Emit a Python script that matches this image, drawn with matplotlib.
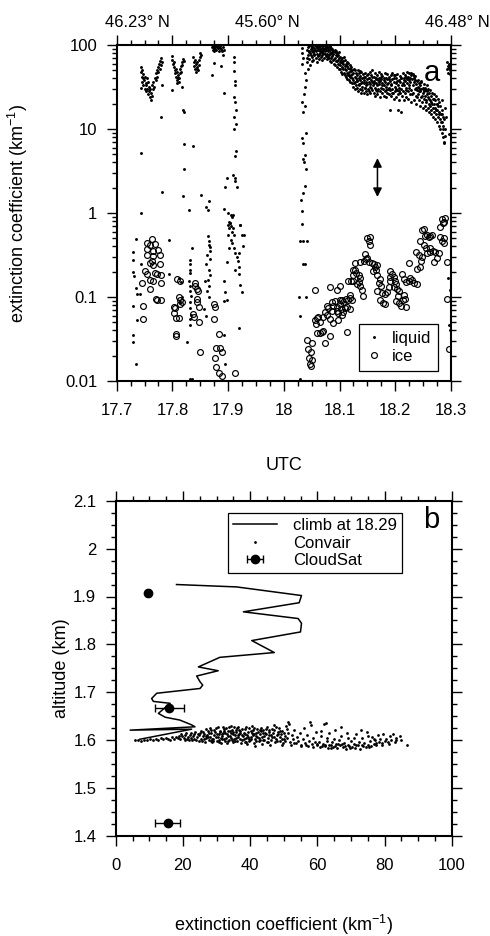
import matplotlib
matplotlib.use("Agg")
import matplotlib.pyplot as plt
from matplotlib.ticker import FixedLocator, NullFormatter, LogLocator
import numpy as np

plt.rcParams['font.family'] = ['Liberation Sans', 'DejaVu Sans']
plt.rcParams['mathtext.fontset'] = 'custom'
plt.rcParams['mathtext.rm'] = 'Liberation Sans'
plt.rcParams['mathtext.it'] = 'Liberation Sans'

# ---------------- Panel a data: (UTC hour, extinction km^-1) ----------------
liquid_left = [
    (17.743, 55), (17.744, 48), (17.745, 42), (17.745, 36), (17.746, 50), (17.747, 40), (17.748, 33),
    (17.748, 45), (17.749, 38), (17.750, 30), (17.751, 42), (17.752, 35), (17.752, 28), (17.753, 33),
    (17.754, 40), (17.755, 30), (17.756, 26), (17.757, 36), (17.758, 28), (17.758, 32), (17.759, 24),
    (17.760, 30), (17.761, 22), (17.762, 27), (17.763, 33), (17.764, 25), (17.765, 30), (17.766, 36),
    (17.767, 32), (17.768, 40), (17.770, 38), (17.771, 46), (17.772, 42), (17.773, 50), (17.774, 55),
    (17.775, 48), (17.776, 60), (17.777, 52), (17.778, 65), (17.779, 58), (17.780, 70), (17.781, 62),
    (17.744, 31), (17.781, 33), (17.780, 13.9), (17.744, 5.2), (17.781, 1.78), (17.744, 1.0),
    (17.799, 74), (17.800, 66), (17.801, 60), (17.802, 55), (17.803, 62), (17.804, 50), (17.805, 46),
    (17.806, 52), (17.807, 42), (17.808, 48), (17.809, 38), (17.810, 44), (17.811, 36), (17.812, 40),
    (17.813, 46), (17.814, 52), (17.815, 48), (17.816, 56), (17.817, 62), (17.818, 58), (17.819, 68),
    (17.820, 64), (17.810, 40), (17.808, 35),
    (17.799, 29), (17.818, 32), (17.819, 17), (17.820, 16), (17.820, 6.6), (17.821, 3.3), (17.819, 1.6),
    (17.837, 6.2), (17.830, 1.1), (17.851, 1.63), (17.860, 1.18), (17.864, 1.1), (17.866, 1.39),
    (17.837, 72), (17.838, 62), (17.839, 56), (17.840, 66), (17.841, 52), (17.842, 60), (17.843, 48),
    (17.844, 55), (17.845, 62), (17.846, 50), (17.847, 58), (17.848, 66), (17.849, 72), (17.850, 80),
    (17.851, 76), (17.844, 52),
    (17.871, 95), (17.872, 88), (17.873, 98), (17.874, 92), (17.875, 85), (17.876, 97), (17.877, 90),
    (17.878, 99), (17.879, 87), (17.880, 94), (17.881, 100), (17.882, 91), (17.883, 96), (17.884, 86),
    (17.885, 93), (17.886, 98), (17.888, 90), (17.889, 84), (17.890, 95), (17.892, 88),
    (17.874, 61), (17.871, 44), (17.888, 57), (17.892, 27), (17.890, 75),
    (17.911, 71), (17.910, 62), (17.911, 49), (17.912, 37), (17.912, 33), (17.910, 24), (17.913, 21),
    (17.914, 17), (17.911, 14), (17.915, 11.4), (17.910, 9.9), (17.914, 5.5), (17.912, 4.8),
    (17.909, 2.8), (17.912, 2.6), (17.913, 2.4), (17.916, 2.06), (17.895, 2.06), (17.898, 2.6),
    (17.893, 1.12), (17.906, 0.95), (17.907, 0.9), (17.908, 0.95), (17.900, 0.72), (17.903, 0.76),
    (17.905, 0.7), (17.921, 0.72), (17.899, 1.0), (17.901, 0.78), (17.909, 0.66),
]

liquid_low = [
    (17.730, 0.347), (17.730, 0.275), (17.730, 0.2), (17.731, 0.18), (17.735, 0.49), (17.735, 0.127),
    (17.736, 0.11), (17.730, 0.078), (17.736, 0.053), (17.730, 0.035), (17.729, 0.029), (17.735, 0.016),
    (17.743, 0.25), (17.742, 0.11), (17.793, 0.48), (17.793, 0.19), (17.811, 0.17), (17.815, 0.15),
    (17.817, 0.1), (17.813, 0.086),
    (17.831, 0.275), (17.831, 0.25), (17.832, 0.212), (17.831, 0.193), (17.829, 0.154), (17.832, 0.135),
    (17.831, 0.117), (17.833, 0.102), (17.831, 0.087), (17.832, 0.074), (17.833, 0.061), (17.831, 0.054),
    (17.832, 0.046), (17.835, 0.38), (17.827, 0.029), (17.832, 0.0106), (17.835, 0.0106),
    (17.863, 0.53), (17.865, 0.47), (17.865, 0.42), (17.862, 0.32), (17.868, 0.28), (17.860, 0.25),
    (17.865, 0.21), (17.868, 0.185), (17.863, 0.16), (17.859, 0.155), (17.866, 0.135), (17.862, 0.117),
    (17.865, 0.1), (17.857, 0.072), (17.860, 0.06), (17.868, 0.39), (17.868, 0.35),
    (17.904, 0.76), (17.901, 0.66), (17.907, 0.6), (17.910, 0.55), (17.899, 0.55), (17.922, 0.72),
    (17.925, 0.55), (17.928, 0.55), (17.907, 0.44), (17.905, 0.48), (17.926, 0.4), (17.920, 0.33),
    (17.913, 0.33), (17.898, 0.26), (17.916, 0.3), (17.920, 0.23), (17.913, 0.21), (17.919, 0.19),
    (17.922, 0.14), (17.925, 0.116), (17.895, 0.116), (17.893, 0.09), (17.898, 0.093), (17.892, 0.154),
    (17.920, 0.043), (17.892, 0.035), (17.895, 0.016), (17.910, 0.38), (17.902, 0.38), (17.917, 0.27),
]

liquid_right = [
    (18.032, 92), (18.032, 80), (18.034, 70), (18.032, 60), (18.038, 46), (18.040, 38), (18.038, 32),
    (18.036, 26), (18.032, 21), (18.038, 19), (18.034, 16), (18.040, 9.0), (18.032, 7.8), (18.034, 6.8),
    (18.038, 4.9), (18.035, 4.4), (18.036, 4.1), (18.040, 3.3), (18.038, 2.1), (18.034, 1.75),
    (18.030, 1.44), (18.032, 1.05), (18.032, 0.74), (18.029, 0.47), (18.035, 0.46), (18.041, 0.47),
    (18.034, 0.25), (18.038, 0.25), (18.028, 0.1), (18.040, 0.1), (18.029, 0.059), (18.029, 0.0106),
    (18.294, 0.17), (18.298, 0.12), (18.297, 0.047), (18.298, 0.04),
]

liquid_dense = [
    (18.041, 88), (18.042, 62), (18.043, 95), (18.043, 75), (18.044, 52), (18.045, 82), (18.046, 97),
    (18.046, 68), (18.047, 58), (18.048, 90), (18.049, 77), (18.049, 100), (18.050, 64), (18.050, 86),
    (18.051, 95), (18.051, 72), (18.052, 83), (18.053, 99), (18.053, 66), (18.054, 88), (18.055, 76),
    (18.055, 93), (18.056, 100), (18.057, 70), (18.057, 85), (18.058, 96), (18.059, 79), (18.059, 63),
    (18.060, 91), (18.061, 100), (18.061, 74), (18.062, 87), (18.063, 95), (18.063, 68), (18.064, 81),
    (18.065, 98), (18.065, 90), (18.066, 72), (18.067, 85), (18.067, 100), (18.068, 77), (18.069, 93),
    (18.069, 66), (18.070, 88), (18.071, 97), (18.071, 80), (18.072, 70), (18.073, 92), (18.073, 100),
    (18.074, 84), (18.075, 74), (18.075, 95), (18.076, 88), (18.077, 68), (18.077, 99), (18.078, 79),
    (18.079, 90), (18.079, 72), (18.080, 85), (18.081, 94), (18.081, 76), (18.082, 65), (18.083, 88),
    (18.083, 80), (18.084, 70), (18.085, 92), (18.085, 62), (18.086, 83), (18.087, 74), (18.087, 89),
    (18.088, 67), (18.089, 79), (18.089, 86), (18.090, 60), (18.091, 82), (18.091, 70), (18.092, 58),
    (18.093, 76), (18.093, 85), (18.094, 64), (18.095, 73), (18.095, 54), (18.096, 80), (18.097, 67),
    (18.097, 60), (18.098, 75), (18.099, 52), (18.099, 70), (18.100, 63), (18.101, 72), (18.101, 58),
    (18.102, 66), (18.103, 48), (18.103, 62), (18.104, 70), (18.105, 55), (18.105, 45), (18.106, 64),
    (18.107, 52), (18.107, 60), (18.108, 47), (18.109, 66), (18.109, 56), (18.110, 44), (18.111, 60),
    (18.111, 50), (18.112, 42), (18.113, 56), (18.113, 47), (18.114, 39), (18.115, 53), (18.115, 44),
    (18.116, 61), (18.117, 48), (18.117, 38), (18.118, 52), (18.119, 42), (18.119, 36), (18.120, 49),
    (18.121, 55), (18.121, 44), (18.122, 35), (18.123, 50), (18.123, 40), (18.124, 32), (18.125, 46),
    (18.125, 38), (18.126, 52), (18.127, 42), (18.127, 30), (18.128, 36), (18.129, 47), (18.129, 33),
    (18.130, 40), (18.131, 44), (18.131, 31), (18.132, 37), (18.133, 50), (18.133, 28), (18.134, 41),
    (18.135, 34), (18.135, 46), (18.136, 30), (18.137, 38), (18.137, 43), (18.138, 27), (18.139, 35),
    (18.139, 48), (18.140, 32), (18.141, 40), (18.141, 29), (18.142, 45), (18.143, 35), (18.143, 27),
    (18.144, 38), (18.145, 31), (18.145, 47), (18.146, 42), (18.147, 28), (18.147, 36), (18.148, 33),
    (18.149, 44), (18.149, 26), (18.150, 39), (18.151, 30), (18.151, 45), (18.152, 36), (18.153, 28),
    (18.153, 41), (18.154, 34), (18.155, 48), (18.155, 27), (18.156, 38), (18.157, 31), (18.157, 44),
    (18.158, 29), (18.159, 36), (18.159, 50), (18.160, 33), (18.161, 42), (18.161, 27), (18.162, 37),
    (18.163, 31), (18.163, 46), (18.164, 25), (18.165, 35), (18.165, 40), (18.166, 29), (18.167, 44),
    (18.167, 33), (18.168, 26), (18.169, 38), (18.169, 30), (18.170, 48), (18.171, 34), (18.171, 41),
    (18.172, 28), (18.173, 37), (18.173, 24), (18.174, 45), (18.175, 31), (18.175, 39), (18.176, 27),
    (18.177, 35), (18.177, 43), (18.178, 30), (18.179, 25), (18.179, 38), (18.180, 33), (18.181, 46),
    (18.181, 28), (18.182, 36), (18.183, 41), (18.183, 24), (18.184, 32), (18.185, 39), (18.185, 27),
    (18.186, 45), (18.187, 30), (18.187, 35), (18.188, 26), (18.189, 42), (18.189, 31), (18.190, 37),
    (18.191, 17), (18.191, 29), (18.192, 44), (18.193, 34), (18.193, 25), (18.194, 39), (18.195, 30),
    (18.195, 47), (18.196, 27), (18.197, 36), (18.197, 23), (18.198, 41), (18.199, 32), (18.199, 28),
    (18.200, 44), (18.201, 35), (18.201, 24), (18.202, 40), (18.203, 29), (18.203, 45), (18.204, 17),
    (18.205, 33), (18.205, 26), (18.206, 38), (18.207, 22), (18.207, 31), (18.208, 43), (18.209, 27),
    (18.209, 36), (18.210, 16), (18.211, 30), (18.211, 41), (18.212, 25), (18.213, 35), (18.213, 46),
    (18.214, 28), (18.215, 38), (18.215, 22), (18.216, 33), (18.217, 44), (18.217, 27), (18.218, 37),
    (18.219, 24), (18.219, 31), (18.220, 42), (18.221, 48), (18.221, 35), (18.222, 28), (18.223, 42),
    (18.223, 23), (18.224, 38), (18.225, 46), (18.225, 31), (18.226, 26), (18.227, 40), (18.227, 36),
    (18.228, 44), (18.229, 29), (18.229, 21), (18.230, 39), (18.231, 45), (18.231, 33), (18.232, 27),
    (18.233, 41), (18.233, 36), (18.234, 22), (18.235, 38), (18.235, 30), (18.236, 43), (18.237, 25),
    (18.237, 34), (18.238, 20), (18.239, 37), (18.239, 29), (18.240, 32), (18.241, 38), (18.241, 26),
    (18.242, 31), (18.243, 22), (18.243, 35), (18.244, 28), (18.245, 19), (18.245, 33), (18.246, 24),
    (18.247, 30), (18.247, 36), (18.248, 21), (18.249, 27), (18.249, 18), (18.250, 31), (18.251, 34),
    (18.251, 23), (18.252, 28), (18.253, 19), (18.253, 31), (18.254, 25), (18.255, 17), (18.255, 29),
    (18.256, 22), (18.257, 33), (18.257, 26), (18.258, 18), (18.259, 24), (18.259, 30), (18.260, 20),
    (18.261, 27), (18.261, 16), (18.262, 22), (18.263, 29), (18.263, 19), (18.264, 25), (18.265, 15),
    (18.265, 21), (18.266, 27), (18.267, 18), (18.267, 23), (18.268, 14), (18.269, 20), (18.269, 26),
    (18.270, 16), (18.271, 22), (18.271, 13), (18.272, 18), (18.273, 25), (18.273, 15), (18.274, 20),
    (18.275, 12), (18.275, 17), (18.276, 23), (18.277, 14), (18.277, 19), (18.278, 11), (18.279, 16),
    (18.279, 21), (18.280, 13), (18.281, 19), (18.281, 10), (18.282, 15), (18.283, 22), (18.283, 12),
    (18.284, 17), (18.284, 9), (18.285, 14), (18.286, 8), (18.286, 11), (18.287, 7), (18.287, 13),
    (18.288, 6.8), (18.289, 10), (18.290, 18), (18.291, 14), (18.293, 62), (18.293, 52), (18.294, 57),
    (18.295, 47), (18.296, 60), (18.297, 53), (18.297, 8.7), (18.298, 45), (18.299, 58), (18.299, 50),
]

liquid_dense_extra = [
    (18.0415, 70), (18.0445, 86), (18.0475, 80), (18.0505, 92), (18.0535, 78), (18.0565, 88),
    (18.0595, 97), (18.0625, 77), (18.0655, 86), (18.0685, 82), (18.0715, 90), (18.0745, 78),
    (18.0775, 94), (18.0805, 70), (18.0835, 96), (18.0865, 78), (18.0895, 68), (18.0925, 88),
    (18.0955, 64), (18.0985, 82), (18.1015, 52), (18.1045, 62), (18.1075, 72), (18.1105, 52),
    (18.1135, 63), (18.1165, 44), (18.1195, 58), (18.1225, 45), (18.1255, 35), (18.1285, 50),
    (18.1315, 38), (18.1345, 33), (18.1375, 49), (18.1405, 36), (18.1435, 42), (18.1465, 31),
    (18.1495, 34), (18.1525, 40), (18.1555, 32), (18.1585, 42), (18.1615, 35), (18.1645, 39),
    (18.1675, 28), (18.1705, 36), (18.1735, 42), (18.1765, 33), (18.1795, 41), (18.1825, 29),
    (18.1855, 34), (18.1885, 39), (18.1915, 33), (18.1945, 27), (18.1975, 44), (18.2005, 30),
    (18.2035, 37), (18.2065, 28), (18.2095, 40), (18.2125, 33), (18.2155, 41), (18.2185, 29),
    (18.2215, 39), (18.2245, 33), (18.2275, 47), (18.2305, 26), (18.2335, 43), (18.2365, 31),
    (18.2395, 24), (18.2425, 28), (18.2455, 37), (18.2485, 25), (18.2515, 29), (18.2545, 21),
    (18.2575, 28), (18.2605, 23), (18.2635, 17), (18.2665, 20), (18.2695, 23), (18.2725, 17),
    (18.2755, 20), (18.2785, 15), (18.2815, 12), (18.2845, 15), (18.2865, 10), (18.2885, 8.2),
]

ice_left = [
    (17.763, 0.487), (17.754, 0.437), (17.760, 0.417), (17.769, 0.429), (17.755, 0.37), (17.766, 0.356),
    (17.775, 0.363), (17.755, 0.316), (17.766, 0.307), (17.777, 0.316), (17.760, 0.255), (17.763, 0.27),
    (17.765, 0.239), (17.777, 0.246), (17.750, 0.202), (17.754, 0.19), (17.769, 0.193), (17.773, 0.186),
    (17.779, 0.184), (17.759, 0.16), (17.765, 0.153), (17.746, 0.146), (17.779, 0.146), (17.759, 0.125),
    (17.771, 0.095), (17.773, 0.093), (17.780, 0.092), (17.748, 0.079), (17.747, 0.054),
    (17.808, 0.165), (17.814, 0.157), (17.811, 0.099), (17.814, 0.091), (17.817, 0.087), (17.813, 0.083),
    (17.803, 0.077), (17.805, 0.073), (17.802, 0.064), (17.807, 0.057), (17.812, 0.056), (17.806, 0.036),
    (17.807, 0.034),
    (17.840, 0.146), (17.841, 0.137), (17.844, 0.125), (17.846, 0.117), (17.844, 0.095), (17.844, 0.087),
    (17.847, 0.076), (17.837, 0.063), (17.838, 0.058), (17.848, 0.051), (17.849, 0.022),
    (17.874, 0.083), (17.877, 0.075), (17.875, 0.054), (17.884, 0.036), (17.878, 0.025), (17.886, 0.025),
    (17.889, 0.022), (17.877, 0.019), (17.878, 0.0146), (17.883, 0.0125), (17.889, 0.0114),
    (17.913, 0.0124),
]

ice_right = [
    (18.041, 0.031), (18.050, 0.028), (18.044, 0.024), (18.048, 0.022), (18.046, 0.019), (18.050, 0.018),
    (18.047, 0.016), (18.048, 0.015), (18.056, 0.122),
    (18.056, 0.053), (18.059, 0.056), (18.062, 0.058), (18.058, 0.048), (18.064, 0.051),
    (18.059, 0.037), (18.064, 0.037), (18.068, 0.038), (18.071, 0.039), (18.074, 0.028), (18.082, 0.034),
    (18.071, 0.058), (18.077, 0.061), (18.074, 0.066), (18.083, 0.054), (18.089, 0.049), (18.080, 0.073),
    (18.086, 0.069), (18.077, 0.079), (18.086, 0.087), (18.089, 0.079), (18.095, 0.077), (18.092, 0.089),
    (18.100, 0.091), (18.101, 0.083), (18.095, 0.069), (18.098, 0.064), (18.102, 0.071), (18.107, 0.066),
    (18.104, 0.061), (18.110, 0.073), (18.113, 0.077), (18.118, 0.071), (18.095, 0.12), (18.101, 0.137),
    (18.082, 0.133), (18.098, 0.053), (18.113, 0.038),
    (18.104, 0.091), (18.107, 0.087), (18.112, 0.095), (18.116, 0.091), (18.119, 0.105), (18.118, 0.098),
    (18.122, 0.092), (18.116, 0.157), (18.120, 0.157), (18.124, 0.154), (18.125, 0.181),
    (18.125, 0.209), (18.128, 0.212), (18.130, 0.193), (18.134, 0.181), (18.137, 0.17), (18.134, 0.15),
    (18.137, 0.137), (18.131, 0.143), (18.140, 0.122), (18.142, 0.102),
    (18.128, 0.255), (18.136, 0.263), (18.144, 0.27), (18.148, 0.28), (18.152, 0.263), (18.146, 0.325),
    (18.150, 0.501), (18.155, 0.516), (18.152, 0.47), (18.155, 0.417),
    (18.149, 0.288), (18.158, 0.255), (18.161, 0.246), (18.164, 0.228), (18.168, 0.239), (18.166, 0.209),
    (18.160, 0.205), (18.168, 0.181), (18.172, 0.165), (18.170, 0.146), (18.174, 0.137), (18.168, 0.117),
    (18.176, 0.112), (18.173, 0.092), (18.178, 0.085), (18.182, 0.083),
    (18.182, 0.11), (18.185, 0.115), (18.188, 0.133), (18.191, 0.157), (18.190, 0.173), (18.194, 0.19),
    (18.191, 0.205), (18.197, 0.173), (18.200, 0.157), (18.202, 0.143), (18.198, 0.133), (18.203, 0.125),
    (18.206, 0.117), (18.204, 0.102), (18.202, 0.089), (18.206, 0.085), (18.210, 0.079), (18.214, 0.091),
    (18.218, 0.095), (18.215, 0.105), (18.220, 0.077),
    (18.212, 0.186), (18.215, 0.165), (18.220, 0.15), (18.224, 0.157), (18.227, 0.17), (18.230, 0.16),
    (18.234, 0.146), (18.239, 0.143), (18.224, 0.251),
    (18.238, 0.346), (18.242, 0.316), (18.239, 0.218), (18.244, 0.228), (18.246, 0.27),
    (18.245, 0.47), (18.248, 0.63), (18.251, 0.641), (18.254, 0.533), (18.257, 0.548), (18.260, 0.525),
    (18.263, 0.533), (18.266, 0.548), (18.251, 0.417), (18.256, 0.38), (18.248, 0.302), (18.257, 0.331),
    (18.262, 0.346), (18.263, 0.38), (18.268, 0.356), (18.272, 0.346), (18.270, 0.263), (18.275, 0.288),
    (18.278, 0.331), (18.281, 0.525), (18.284, 0.47), (18.287, 0.501), (18.288, 0.437), (18.280, 0.678),
    (18.286, 0.757), (18.293, 0.263), (18.292, 0.095), (18.296, 0.024), (18.284, 0.86), (18.288, 0.79),
    (18.290, 0.88),
]

utc_ticks = [17.7, 17.8, 17.9, 18.0, 18.1, 18.2, 18.3]
utc_labels = ["17.7", "17.8", "17.9", "18", "18.1", "18.2", "18.3"]
ext_ticks = [0.01, 0.1, 1, 10, 100]
ext_labels = ["0.01", "0.1", "1", "10", "100"]
lat_pos = [17.7366, 17.970, 18.311]
lat_labels = ["46.23\u00b0 N", "45.60\u00b0 N", "46.48\u00b0 N"]
arrow_utc = 18.168
arrow_range = (1.55, 4.5)

# ---------------- Panel b data ----------------
climb_ext = [18.1, 36.0, 55.3, 54.6, 38.0, 54.3, 55.3, 55.0, 40.5, 47.2, 31.0, 24.6, 30.5, 24.1,
             25.1, 25.9, 25.1, 12.2, 10.7, 11.2, 16.2, 12.7, 14.7, 19.1, 22.6, 23.6, 4.3, 22.6, 7.2]
climb_alt = [1.925, 1.920, 1.902, 1.887, 1.868, 1.854, 1.844, 1.826, 1.808, 1.783, 1.773, 1.753,
             1.745, 1.734, 1.722, 1.715, 1.708, 1.698, 1.687, 1.681, 1.677, 1.656, 1.648, 1.642,
             1.632, 1.628, 1.621, 1.623, 1.602]

convair = [
    (5.8, 1.600), (6.6, 1.601), (7.5, 1.599), (8.3, 1.601), (9.4, 1.600), (10.2, 1.602), (11.1, 1.600),
    (11.9, 1.603), (12.6, 1.601), (13.4, 1.604), (14.1, 1.602), (14.9, 1.605), (15.5, 1.603), (16.2, 1.601),
    (16.8, 1.606), (17.4, 1.603), (18.0, 1.607), (18.6, 1.604), (19.2, 1.602), (19.8, 1.608),
    (20.3, 1.605), (20.7, 1.610), (21.2, 1.603), (21.6, 1.607), (22.1, 1.611), (22.5, 1.604), (23.0, 1.608),
    (23.4, 1.613), (23.8, 1.601), (24.3, 1.606), (24.7, 1.610), (25.1, 1.615), (25.5, 1.603), (25.9, 1.608),
    (26.3, 1.612), (22.8, 1.600), (24.9, 1.599), (26.0, 1.618),
    (26.6, 1.596), (26.9, 1.604), (27.2, 1.611), (27.4, 1.619), (27.7, 1.600), (28.0, 1.607), (28.3, 1.614),
    (28.5, 1.622), (28.8, 1.597), (29.1, 1.603), (29.3, 1.610), (29.6, 1.617), (29.9, 1.625), (30.1, 1.599),
    (30.4, 1.606), (30.7, 1.613), (30.9, 1.620), (31.2, 1.595), (31.5, 1.602), (31.7, 1.609), (32.0, 1.616),
    (32.2, 1.624), (26.8, 1.608), (27.9, 1.616), (29.0, 1.598), (30.2, 1.612), (31.3, 1.605), (31.9, 1.628),
    (28.6, 1.603), (30.8, 1.601),
    (32.5, 1.598), (32.8, 1.605), (33.0, 1.612), (33.3, 1.619), (33.6, 1.627), (33.8, 1.601), (34.1, 1.608),
    (34.4, 1.615), (34.6, 1.622), (34.9, 1.596), (35.2, 1.603), (35.4, 1.610), (35.7, 1.617), (36.0, 1.625),
    (36.2, 1.599), (36.5, 1.606), (36.8, 1.613), (37.0, 1.620), (37.3, 1.594), (37.6, 1.601), (37.9, 1.608),
    (38.1, 1.616), (32.6, 1.615), (33.5, 1.608), (34.3, 1.630), (35.0, 1.613), (35.9, 1.604), (36.7, 1.621),
    (37.5, 1.611), (33.1, 1.594), (36.4, 1.628), (34.8, 1.618),
    (38.4, 1.623), (38.7, 1.597), (38.9, 1.604), (39.2, 1.611), (39.5, 1.618), (39.8, 1.626), (40.0, 1.600),
    (40.3, 1.607), (40.6, 1.614), (40.8, 1.621), (41.1, 1.595), (41.4, 1.602), (41.7, 1.609), (41.9, 1.616),
    (42.2, 1.624), (42.5, 1.598), (42.7, 1.605), (43.0, 1.612), (43.3, 1.619), (43.5, 1.593), (43.8, 1.601),
    (38.6, 1.612), (39.6, 1.603), (40.5, 1.629), (41.3, 1.613), (42.1, 1.606), (42.9, 1.622), (43.7, 1.615),
    (39.0, 1.592), (41.6, 1.588),
    (44.1, 1.608), (44.4, 1.615), (44.6, 1.623), (44.9, 1.597), (45.2, 1.604), (45.5, 1.611), (45.7, 1.618),
    (46.0, 1.590), (46.3, 1.600), (46.6, 1.607), (46.8, 1.614), (47.1, 1.621), (47.4, 1.596), (47.7, 1.603),
    (47.9, 1.610), (48.2, 1.617), (48.5, 1.626), (48.8, 1.599), (49.0, 1.606), (49.3, 1.613), (49.6, 1.620),
    (49.9, 1.595), (50.1, 1.602), (50.4, 1.609), (50.7, 1.630), (51.0, 1.605), (51.3, 1.616), (51.6, 1.634),
    (45.0, 1.628), (47.0, 1.632), (49.4, 1.589),
    (52.0, 1.597), (52.4, 1.611), (52.8, 1.603), (53.2, 1.621), (53.6, 1.594), (54.0, 1.607), (54.4, 1.599),
    (54.8, 1.615), (55.2, 1.591), (55.6, 1.603), (56.0, 1.626), (56.4, 1.595), (56.8, 1.610), (57.2, 1.588),
    (57.6, 1.599), (58.0, 1.631), (58.4, 1.592), (58.8, 1.605), (59.2, 1.596), (59.6, 1.618), (60.0, 1.589),
    (60.4, 1.597), (60.8, 1.585), (61.2, 1.609), (61.6, 1.592), (62.0, 1.634), (62.4, 1.587), (62.8, 1.598),
    (63.2, 1.584), (63.6, 1.614), (64.0, 1.590), (64.4, 1.596), (64.8, 1.586), (65.2, 1.622), (65.6, 1.593),
    (66.0, 1.583), (66.4, 1.600), (66.8, 1.589), (67.2, 1.608), (67.6, 1.585), (68.0, 1.595), (68.4, 1.582),
    (68.8, 1.616), (69.2, 1.591), (69.6, 1.584), (70.0, 1.599), (61.0, 1.620), (63.0, 1.605), (65.0, 1.603),
    (67.0, 1.628), (69.0, 1.605), (62.2, 1.591), (64.2, 1.583), (66.2, 1.592), (68.2, 1.588),
    (70.4, 1.586), (70.8, 1.593), (71.2, 1.583), (71.6, 1.612), (72.0, 1.589), (72.4, 1.596), (72.8, 1.582),
    (73.2, 1.604), (73.6, 1.587), (74.0, 1.594), (74.4, 1.585), (74.8, 1.617), (75.2, 1.590), (75.6, 1.598),
    (76.0, 1.588), (76.4, 1.606), (76.8, 1.593), (77.2, 1.600), (77.6, 1.591), (78.0, 1.610), (78.4, 1.596),
    (78.8, 1.602), (79.2, 1.594), (79.6, 1.613), (80.0, 1.598), (71.0, 1.604), (73.0, 1.621), (75.0, 1.609),
    (77.0, 1.603),
    (80.5, 1.603), (81.0, 1.596), (81.5, 1.608), (82.0, 1.600), (82.5, 1.612), (83.0, 1.597), (83.5, 1.605),
    (84.5, 1.609), (85.0, 1.601), (86.6, 1.591), (51.4, 1.638), (57.8, 1.637), (62.5, 1.636),
]

convair_extra = [
    (18.8, 1.609), (19.5, 1.612), (20.5, 1.601), (21.0, 1.614), (21.8, 1.601), (22.3, 1.616), (23.2, 1.603),
    (23.7, 1.617), (24.5, 1.613), (25.3, 1.620), (25.7, 1.598), (26.2, 1.602), (27.0, 1.623), (27.6, 1.606),
    (28.1, 1.626), (28.4, 1.599), (29.4, 1.621), (29.8, 1.606), (30.5, 1.627), (30.6, 1.596), (31.1, 1.617),
    (31.6, 1.613), (32.1, 1.603), (32.3, 1.620), (32.9, 1.625), (33.4, 1.599), (33.9, 1.620), (34.2, 1.604),
    (34.7, 1.600), (35.1, 1.628), (35.5, 1.598), (35.8, 1.621), (36.3, 1.611), (36.9, 1.602), (37.1, 1.616),
    (37.7, 1.624), (38.2, 1.603), (38.5, 1.596), (38.8, 1.627), (39.3, 1.607), (39.7, 1.599), (40.2, 1.620),
    (40.4, 1.603), (40.9, 1.611), (41.2, 1.625), (41.8, 1.598), (42.3, 1.617), (42.8, 1.601), (43.1, 1.626),
    (43.4, 1.607), (43.9, 1.621), (44.2, 1.600), (44.7, 1.612), (45.3, 1.596), (45.6, 1.621), (46.1, 1.610),
    (46.5, 1.624), (47.2, 1.606), (47.6, 1.627), (48.0, 1.599), (48.4, 1.612), (48.9, 1.620), (49.5, 1.603),
    (50.0, 1.616), (50.5, 1.598), (51.1, 1.624), (52.2, 1.590), (53.0, 1.594), (55.0, 1.587), (56.6, 1.591),
    (58.6, 1.586), (59.8, 1.593), (61.4, 1.588), (63.4, 1.589), (65.4, 1.587), (67.4, 1.592), (69.4, 1.587),
    (71.4, 1.589), (73.4, 1.591), (75.4, 1.586), (77.4, 1.595), (79.4, 1.590), (81.4, 1.592), (83.4, 1.601),
]

cloudsat_ext = [9.7, 16.0, 15.5]
cloudsat_alt = [1.907, 1.668, 1.428]
cloudsat_err = [0.5, 4.2, 3.7]

ext_b_ticks = [0, 20, 40, 60, 80, 100]
alt_ticks = [1.4, 1.5, 1.6, 1.7, 1.8, 1.9, 2.0, 2.1]
alt_labels = ["1.4", "1.5", "1.6", "1.7", "1.8", "1.9", "2", "2.1"]

# ---------------- Figure ----------------
W, H = 490, 936
fig = plt.figure(figsize=(W / 100, H / 100), dpi=100)

def px_axes(l, t, r, b):
    return fig.add_axes([l / W, 1 - b / H, (r - l) / W, (b - t) / H])

axa = px_axes(116.7, 45, 451, 381)
axb = px_axes(115.7, 500.7, 451.7, 836)

TICKFS = 12
LABFS = 13

def style(ax):
    for s in ax.spines.values():
        s.set_linewidth(1.5)
    ax.tick_params(which='both', direction='out', top=True, right=True, labeltop=False,
                   labelright=False, width=1.0, labelsize=TICKFS, colors='k')
    ax.tick_params(which='major', length=7, pad=7)
    ax.tick_params(which='minor', length=3.6)

# Panel a
lq = liquid_left + liquid_low + liquid_right + liquid_dense + liquid_dense_extra
ice = ice_left + ice_right
axa.plot([p[0] for p in lq], [p[1] for p in lq], ls='none', marker='o', ms=2.1, mfc='k', mec='k',
         mew=0, label='liquid')
axa.plot([p[0] for p in ice], [p[1] for p in ice], ls='none', marker='o', ms=4.2, mfc='none',
         mec='k', mew=0.85, label='ice')
axa.set_yscale('log')
axa.set_xlim(17.7, 18.3)
axa.set_ylim(0.01, 100)
style(axa)
axa.xaxis.set_major_locator(FixedLocator(utc_ticks))
axa.set_xticklabels(utc_labels)
axa.xaxis.set_minor_locator(FixedLocator(np.arange(17.7, 18.3001, 0.025)))
axa.yaxis.set_major_locator(FixedLocator(ext_ticks))
axa.set_yticklabels(ext_labels)
axa.yaxis.set_minor_locator(LogLocator(base=10, subs=np.arange(2, 10), numticks=20))
axa.yaxis.set_minor_formatter(NullFormatter())
axa.tick_params(axis='x', pad=9)
axa.set_ylabel('extinction coefficient (km$^{\\mathregular{-1}}$)', fontsize=LABFS)
axa.yaxis.set_label_coords(-0.259, 0.5)
axa.set_xlabel('UTC', fontsize=LABFS)
axa.xaxis.label.set_va('center')
axa.xaxis.set_label_coords(0.5, -0.25)
for xp, lab in zip(lat_pos, lat_labels):
    axa.text(xp, 1.0545, lab, transform=axa.get_xaxis_transform(), ha='center', va='baseline',
             fontsize=TICKFS, clip_on=False)
axa.annotate('', xy=(arrow_utc, arrow_range[1]), xytext=(arrow_utc, arrow_range[0]),
             arrowprops=dict(arrowstyle='<|-|>', color='k', lw=1.1, mutation_scale=13,
                             shrinkA=0, shrinkB=0))
axa.text(0.942, 0.917, 'a', transform=axa.transAxes, fontsize=21, ha='center', va='center')
lega = axa.legend(loc='lower right', bbox_to_anchor=(0.961, 0.030), fontsize=12, frameon=True,
                  fancybox=False, edgecolor='k', framealpha=1, handlelength=1.0, handletextpad=0.6,
                  borderpad=0.4, labelspacing=0.2, borderaxespad=0)
lega.get_frame().set_linewidth(0.9)

# Panel b
cv = convair + convair_extra
axb.plot(climb_ext, climb_alt, color='k', lw=1.1, label='climb at 18.29')
axb.plot([p[0] for p in cv], [p[1] for p in cv], ls='none', marker='o', ms=2.0,
         mfc='k', mec='k', mew=0, label='Convair')
axb.errorbar(cloudsat_ext, cloudsat_alt, xerr=cloudsat_err, fmt='o', ms=6, color='k',
             ecolor='k', elinewidth=1.0, capsize=3, capthick=1.0, label='CloudSat')
axb.set_xlim(0, 100)
axb.set_ylim(1.4, 2.1)
style(axb)
axb.xaxis.set_major_locator(FixedLocator(ext_b_ticks))
axb.xaxis.set_minor_locator(FixedLocator(np.arange(0, 100.1, 5)))
axb.yaxis.set_major_locator(FixedLocator(alt_ticks))
axb.set_yticklabels(alt_labels)
axb.yaxis.set_minor_locator(FixedLocator(np.arange(1.4, 2.1001, 0.025)))
axb.tick_params(axis='x', pad=9)
axb.set_ylabel('altitude (km)', fontsize=LABFS)
axb.yaxis.set_label_coords(-0.136, 0.5)
axb.set_xlabel('extinction coefficient (km$^{\\mathregular{-1}}$)', fontsize=LABFS)
axb.xaxis.label.set_va('center')
axb.xaxis.set_label_coords(0.5, -0.265)
axb.text(0.940, 0.942, 'b', transform=axb.transAxes, fontsize=21, ha='center', va='center')
legb = axb.legend(loc='upper right', bbox_to_anchor=(0.853, 0.963), fontsize=12, frameon=True,
                  fancybox=False, edgecolor='k', framealpha=1, handlelength=2.6, handletextpad=1.0,
                  borderpad=0.3, labelspacing=0.15, borderaxespad=0)
legb.get_frame().set_linewidth(0.9)

fig.savefig('out.png', dpi=100)
